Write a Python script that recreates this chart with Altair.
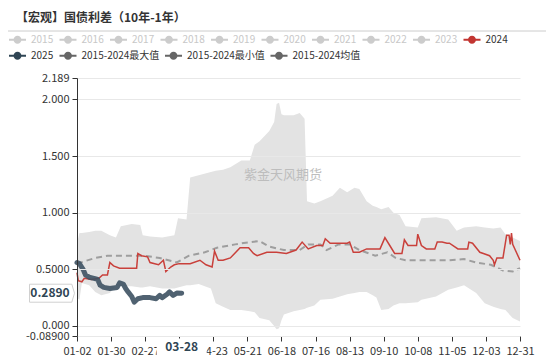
import altair as alt
import pandas as pd

FONT = "Noto Sans CJK SC"
TITLE = "【宏观】国债利差（10年-1年）"
WATERMARK = "紫金天风期货"

SERIES_ROW1 = ['2015', '2016', '2017', '2018', '2019', '2020', '2021', '2022', '2023', '2024']
COLORS_ROW1 = ['#cccccc'] * 9 + ['#c23531']
SERIES_ROW2 = ['2025', '2015-2024最大值', '2015-2024最小值', '2015-2024均值']
COLORS_ROW2 = ['#2f4554', '#666666', '#666666', '#666666']
INACTIVE = SERIES_ROW1[:9]

X_TICK_LABELS = ['01-02', '01-30', '02-27', '03-26', '04-23', '05-21', '06-18',
                 '07-16', '08-13', '09-10', '10-08', '11-05', '12-03', '12-31']
X_STEP = 28
Y_TICKS = [-0.089, 0.0, 0.5, 1.0, 1.5, 2.0, 2.189]
Y_LABELS = ['-0.08900', '0.000', '0.5000', '1.000', '1.500', '2.000', '2.189']

BAND_DAYS = [0, 2, 4, 10, 15, 20, 27, 32, 36, 45, 52, 54, 60, 70, 80, 83, 90, 93, 100, 110,
             114, 120, 126, 135, 142, 146, 150, 158, 162, 164, 166, 168, 170, 178, 183, 187,
             189, 195, 200, 210, 216, 222, 228, 232, 238, 243, 246, 250, 256, 260, 265, 270,
             280, 283, 295, 305, 312, 318, 328, 335, 342, 348, 352, 358, 364]
BAND_MAX = [0.73, 0.82, 0.82, 0.83, 0.84, 0.84, 0.80, 0.78, 0.88, 0.90, 0.89, 0.80, 0.79, 0.78,
            0.80, 0.95, 0.94, 1.31, 1.33, 1.36, 1.37, 1.38, 1.40, 1.46, 1.46, 1.60, 1.63, 1.72,
            1.80, 1.96, 1.97, 1.87, 1.86, 1.86, 1.88, 1.83, 1.10, 1.08, 1.10, 1.15, 1.22, 1.18,
            1.22, 1.21, 1.10, 1.06, 1.05, 1.03, 1.05, 1.00, 0.98, 0.88, 0.87, 0.95, 0.96, 0.94,
            0.84, 0.87, 0.88, 0.87, 0.86, 0.87, 0.81, 0.78, 0.75]
BAND_MIN = [0.25, 0.23, 0.38, 0.36, 0.30, 0.27, 0.29, 0.36, 0.35, 0.35, 0.34, 0.34, 0.35, 0.33,
            0.33, 0.34, 0.36, 0.36, 0.37, 0.33, 0.20, 0.17, 0.14, 0.14, 0.13, 0.12, 0.07, 0.05,
            0.00, -0.03, -0.02, 0.05, 0.10, 0.13, 0.14, 0.15, 0.16, 0.18, 0.23, 0.24, 0.26, 0.28,
            0.29, 0.30, 0.30, 0.27, 0.25, 0.14, 0.15, 0.18, 0.20, 0.20, 0.21, 0.23, 0.26, 0.32,
            0.34, 0.36, 0.29, 0.20, 0.17, 0.15, 0.14, 0.07, 0.04]

MEAN_DAYS = [0, 6, 15, 25, 40, 55, 68, 82, 92, 105, 115, 130, 142, 150, 158, 170, 183, 190,
             200, 205, 215, 224, 232, 245, 255, 262, 270, 290, 305, 318, 328, 340, 350, 358, 364]
MEAN_VALS = [0.55, 0.57, 0.60, 0.62, 0.62, 0.62, 0.60, 0.56, 0.62, 0.65, 0.69, 0.72, 0.74, 0.75,
             0.70, 0.67, 0.67, 0.72, 0.72, 0.67, 0.72, 0.72, 0.67, 0.62, 0.65, 0.60, 0.58, 0.58,
             0.58, 0.59, 0.56, 0.54, 0.49, 0.48, 0.51]

Y2024_DAYS = [0, 1, 4, 6, 12, 18, 21, 25, 27, 30, 35, 49, 50, 53, 58, 60, 67, 71, 73, 77, 80,
              84, 93, 101, 106, 111, 113, 116, 120, 126, 134, 141, 145, 148, 156, 164, 172,
              180, 185, 190, 197, 202, 204, 208, 222, 224, 227, 232, 238, 249, 253, 257, 261,
              267, 269, 272, 279, 280, 283, 287, 294, 296, 300, 304, 306, 313, 321, 322, 325,
              331, 339, 342, 343, 345, 350, 353, 355, 356, 357, 358, 361, 364]
Y2024_VALS = [0.47, 0.40, 0.39, 0.42, 0.41, 0.42, 0.45, 0.45, 0.56, 0.53, 0.51, 0.51, 0.64,
              0.62, 0.61, 0.56, 0.54, 0.58, 0.48, 0.52, 0.54, 0.55, 0.55, 0.58, 0.54, 0.52,
              0.66, 0.58, 0.58, 0.60, 0.69, 0.69, 0.64, 0.62, 0.65, 0.65, 0.64, 0.67, 0.74,
              0.68, 0.71, 0.71, 0.77, 0.73, 0.73, 0.74, 0.65, 0.65, 0.68, 0.68, 0.78, 0.71,
              0.64, 0.64, 0.76, 0.71, 0.71, 0.81, 0.71, 0.68, 0.68, 0.74, 0.74, 0.73, 0.73,
              0.68, 0.68, 0.74, 0.73, 0.65, 0.62, 0.58, 0.54, 0.60, 0.60, 0.80, 0.80, 0.72,
              0.82, 0.72, 0.65, 0.58]

Y2025_DAYS = [0, 2, 5, 7, 10, 14, 17, 19, 22, 27, 33, 35, 38, 40, 42, 45, 47, 50, 54, 60, 65,
              68, 70, 74, 76, 79, 82, 86]
Y2025_VALS = [0.56, 0.55, 0.50, 0.45, 0.43, 0.42, 0.41, 0.36, 0.34, 0.33, 0.34, 0.38, 0.37,
              0.33, 0.30, 0.26, 0.21, 0.24, 0.25, 0.25, 0.24, 0.27, 0.25, 0.28, 0.30, 0.27,
              0.29, 0.289]

POINTER_DAY = 86
POINTER_DAY_LABEL = '03-28'
POINTER_VALUE = 0.289
POINTER_VALUE_LABEL = '0.2890'

# ---------------------------------------------------------------- tables
band_df = pd.DataFrame({'day': BAND_DAYS, 'max': BAND_MAX, 'min': BAND_MIN})
mean_df = pd.DataFrame({'day': MEAN_DAYS, 'v': MEAN_VALS})
y2024_df = pd.DataFrame({'day': Y2024_DAYS, 'v': Y2024_VALS})
y2025_df = pd.DataFrame({'day': Y2025_DAYS, 'v': Y2025_VALS})
leg1_df = pd.DataFrame({'s1': SERIES_ROW1, 'day': [0] * len(SERIES_ROW1), 'v': [0.0] * len(SERIES_ROW1)})
leg2_df = pd.DataFrame({'s2': SERIES_ROW2, 'day': [0] * len(SERIES_ROW2), 'v': [0.0] * len(SERIES_ROW2)})
xptr_df = pd.DataFrame({'day': [POINTER_DAY], 'label': [POINTER_DAY_LABEL]})
yptr_df = pd.DataFrame({'v': [POINTER_VALUE], 'label': [POINTER_VALUE_LABEL]})
one_df = pd.DataFrame({'t': [TITLE], 'w': [WATERMARK]})

W, H = 443, 258

x_expr = "[" + ",".join("'%s'" % s for s in X_TICK_LABELS) + "][round(datum.value/%d)]" % X_STEP
y_expr = "'" + Y_LABELS[-1] + "'"
for i in range(len(Y_TICKS) - 2, -1, -1):
    thr = (Y_TICKS[i] + Y_TICKS[i + 1]) / 2
    y_expr = "datum.value < %f ? '%s' : (%s)" % (thr, Y_LABELS[i], y_expr)

xs = alt.Scale(domain=[0, X_STEP * (len(X_TICK_LABELS) - 1)], nice=False, zero=False)
ys = alt.Scale(domain=[Y_TICKS[0], Y_TICKS[-1]], nice=False, zero=False)

xaxis = alt.Axis(values=[i * X_STEP for i in range(len(X_TICK_LABELS))], labelExpr=x_expr,
                 title=None, grid=False, tickSize=5, labelPadding=4, labelOverlap=False,
                 labelFlush=False, domainColor='#333333', tickColor='#333333',
                 labelColor='#333333', labelFontSize=11, labelFont=FONT)
yaxis = alt.Axis(values=Y_TICKS, labelExpr=y_expr, title=None, grid=True, gridColor='#e8e8e8',
                 tickSize=5, labelPadding=3, labelOverlap=False, labelFlush=False,
                 domainColor='#333333', tickColor='#333333', labelColor='#333333',
                 labelFontSize=11, labelFont=FONT, zindex=1)

X = alt.X('day:Q', scale=xs, axis=xaxis)
Y = alt.Y('v:Q', scale=ys, axis=yaxis)

band = alt.Chart(band_df).mark_area(color='#e3e3e3', interpolate='linear').encode(
    x=X, y=alt.Y('max:Q', scale=ys, axis=yaxis), y2='min:Q')

mean = alt.Chart(mean_df).mark_line(color='#9e9e9e', strokeDash=[6, 4], strokeWidth=2).encode(x=X, y=Y)
l2024 = alt.Chart(y2024_df).mark_line(color='#c9403b', strokeWidth=1.5).encode(x=X, y=Y)
l2025 = alt.Chart(y2025_df).mark_line(color='#3d5162', strokeWidth=5, strokeJoin='round',
                                      strokeCap='round', opacity=0.9).encode(x=X, y=Y)

# legend glyph: short bar - filled dot - short bar (all filled areas)
legend_symbol = ("M-1,-0.11L-0.45,-0.11L-0.45,0.11L-1,0.11Z"
                 "M0.45,-0.11L1,-0.11L1,0.11L0.45,0.11Z"
                 "M-0.47,0A0.47,0.47 0 1 1 0.47,0A0.47,0.47 0 1 1 -0.47,0Z")
inactive_list = "[" + ",".join("'%s'" % s for s in INACTIVE) + "]"


def make_legend(ly, ncols):
    return alt.Legend(
        orient='none', legendX=-68, legendY=ly, direction='horizontal', columns=ncols,
        title=None, symbolType=legend_symbol, symbolSize=289,
        symbolStrokeWidth=0, symbolOpacity=1,
        labelColor={'expr': "indexof(%s, datum.label) >= 0 ? '#c8c8c8' : '#333333'" % inactive_list},
        labelFont=FONT, labelFontSize=10, labelOffset=5, columnPadding=5.5,
        symbolLimit=0)


leg1 = alt.Chart(leg1_df).mark_point(filled=True, opacity=0).encode(
    x=X, y=Y,
    color=alt.Color('s1:N', scale=alt.Scale(domain=SERIES_ROW1, range=COLORS_ROW1),
                    legend=make_legend(-47, len(SERIES_ROW1)), sort=SERIES_ROW1))
leg2 = alt.Chart(leg2_df).mark_point(filled=True, opacity=0).encode(
    x=X, y=Y,
    fill=alt.Fill('s2:N', scale=alt.Scale(domain=SERIES_ROW2, range=COLORS_ROW2),
                  legend=make_legend(-31, len(SERIES_ROW2)), sort=SERIES_ROW2))

title = alt.Chart(one_df).mark_text(align='left', baseline='middle', font=FONT, fontSize=12,
                                    fontWeight='bold', color='#333333').encode(
    x=alt.value(-61), y=alt.value(-60), text='t:N')
sep = alt.Chart(one_df).mark_rule(color='#cccccc', strokeWidth=1).encode(
    x=alt.value(-69), x2=alt.value(469), y=alt.value(-47))
wm = alt.Chart(one_df).mark_text(font=FONT, fontSize=13, color='#bdbdbd').encode(
    x=alt.value(206), y=alt.value(97), text='w:N')

box_path = "M-1,-0.4L0.88,-0.4L1,0L0.88,0.4L-1,0.4Z"
yptr_box = alt.Chart(yptr_df).mark_point(shape=box_path, size=2025, filled=True, fill='white',
                                         stroke='#d0d0d0', strokeWidth=1, opacity=1).encode(
    x=alt.value(-25), y=Y)
yptr_txt = alt.Chart(yptr_df).mark_text(font=FONT, fontSize=12, fontWeight='bold',
                                        color='#2f4554').encode(x=alt.value(-27), y=Y, text='label:N')

xbox_path = "M-1,-0.34L1,-0.34L1,0.34L-1,0.34Z"
xptr_box = alt.Chart(xptr_df).mark_point(shape=xbox_path, size=2500, filled=True, fill='white',
                                         stroke='white', strokeWidth=0, opacity=1).encode(
    x=X, y=alt.value(H + 11))
xptr_txt = alt.Chart(xptr_df).mark_text(font=FONT, fontSize=12, fontWeight='bold',
                                        color='#2f4554').encode(x=X, y=alt.value(H + 11), text='label:N')

chart = alt.layer(band, mean, l2024, l2025, leg1, leg2, wm, title, sep,
                  yptr_box, yptr_txt, xptr_box, xptr_txt).properties(
    width=W, height=H,
    autosize=alt.AutoSizeParams(type='none'),
    padding={'left': 77, 'top': 78, 'right': 30, 'bottom': 20},
    background='white',
).resolve_scale(color='independent', fill='independent').configure_view(stroke=None)

chart.save("out.html", embed_options={"renderer": "svg", "actions": False})
